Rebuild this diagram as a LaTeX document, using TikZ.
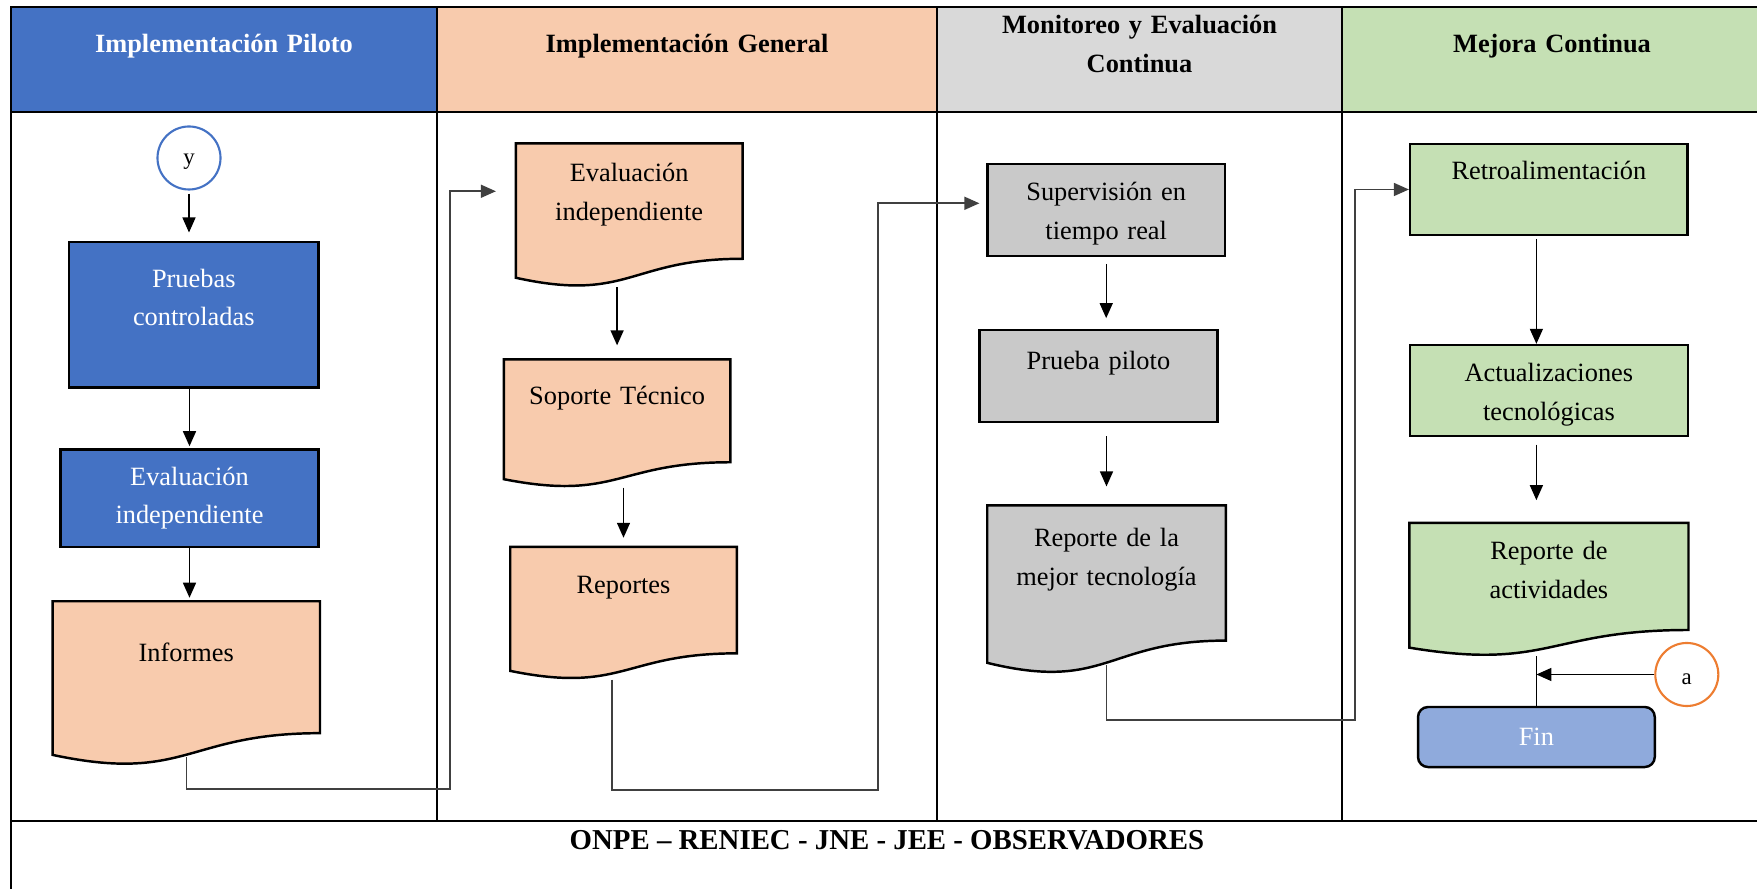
\documentclass[tikz,border=0pt]{standalone}
\usepackage{fontspec}
\setmainfont{Liberation Serif}
\usetikzlibrary{arrows.meta,calc,backgrounds}

\definecolor{pilotblue}{HTML}{4472C4}
\definecolor{genpeach}{HTML}{F8CBAD}
\definecolor{headgray}{HTML}{D9D9D9}
\definecolor{boxgray}{HTML}{C9C9C9}
\definecolor{mejgreen}{HTML}{C5E0B4}
\definecolor{finblue}{HTML}{8FAADC}
\definecolor{ringorange}{HTML}{ED7D31}
\definecolor{linkgray}{HTML}{404040}

\begin{document}
\begin{tikzpicture}[
		x=0.01cm, y=-0.01cm,
		laneline/.style={draw=black, line width=0.5pt},
		headcell/.style={draw=black, line width=0.5pt, inner sep=0pt, align=center, font=\fontsize{7.5}{11}\selectfont\bfseries},
		txt/.style={inner sep=0pt, align=center, font=\fontsize{7.5}{11}\selectfont},
		procbox/.style={txt, draw=black, line width=0.7pt},
		docbox/.style={txt},
		ringnode/.style={circle, minimum size=0.63cm, inner sep=0pt, line width=0.6pt, text depth=0cm, font=\fontsize{6.5}{8}\selectfont},
		flowarrow/.style={line width=0.4pt, -{Triangle[length=1.5mm,width=1.3mm]}},
		elbow/.style={draw=linkgray, line width=0.45pt, -{Triangle[length=1.5mm,width=1.3mm]}}
		]
		\useasboundingbox (0,0) rectangle (1757,889);
		
		% cabecera
		\node (h1) [headcell, fill=pilotblue, text=white, text width=4.26cm, text height=0.463cm, text depth=0.59cm] at (224,59.35) {Implementación Piloto};
		\node (h2) [headcell, fill=genpeach, text width=5cm, text height=0.463cm, text depth=0.59cm] at (687,59.35) {Implementación General};
		\node (h3) [headcell, fill=headgray, text width=4.05cm, text height=0.273cm, text depth=0.78cm] at (1139.5,59.35) {Monitoreo y Evaluación\\Continua};
		\node (h4) [headcell, fill=mejgreen, text width=4.2cm, text height=0.463cm, text depth=0.59cm] at (1552,59.35) {Mejora Continua};
		
		% carriles
		\draw[laneline] (11,112) -- (11,900);
		\foreach \x in {437,937,1342}
			\draw[laneline] (\x,112) -- (\x,821);
		\draw[laneline] (1762,112) -- (1762,900);
		\draw[laneline] (11,821) -- (1762,821);
		\node (org) [font=\fontsize{8.2}{10}\selectfont\bfseries] at (887,840.5) {ONPE – RENIEC - JNE - JEE - OBSERVADORES};
		
		% Implementacion Piloto
		\node (yc) [ringnode, draw=pilotblue, text height=0.14cm] at (189,158) {y};
		\node (pc) [procbox, node distance=1.565cm, below of=yc, xshift=0.048cm, fill=pilotblue, text=white, text width=2.496cm, text height=0.453cm, text depth=1.003cm] {Pruebas\\controladas};
		\node (ev) [procbox, node distance=1.835cm, below of=pc, xshift=-0.043cm, fill=pilotblue, text=white, text width=2.583cm, text height=0.357cm, text depth=0.617cm] {Evaluación\\independiente};
		\node (inf) [docbox, node distance=1.852cm, below of=ev, xshift=-0.032cm, text width=2.658cm, text height=0.6cm, text depth=1.03cm] {Informes};
		
		% Implementacion General
		\node (evg) [docbox, text width=2.251cm, text height=0.377cm, text depth=1.048cm] at (629.2,215.3) {Evaluación\\independiente};
		\node (sop) [docbox, node distance=2.081cm, below of=evg, xshift=-0.121cm, text width=2.25cm, text height=0.44cm, text depth=0.828cm] {Soporte Técnico};
		\node (rep) [docbox, node distance=1.896cm, below of=sop, xshift=0.064cm, text width=2.25cm, text height=0.462cm, text depth=0.852cm] {Reportes};
		
		% Monitoreo
		\node (sup) [procbox, fill=boxgray, text width=2.376cm, text height=0.37cm, text depth=0.55cm] at (1106.2,210) {Supervisión en\\tiempo real};
		\node (pp) [procbox, node distance=1.659cm, below of=sup, xshift=-0.078cm, fill=boxgray, text width=2.376cm, text height=0.395cm, text depth=0.522cm] {Prueba piloto};
		\node (rml) [docbox, node distance=2.136cm, below of=pp, xshift=0.081cm, text width=2.37cm, text height=0.405cm, text depth=1.265cm] {Reporte de la\\mejor tecnología};
		
		% Mejora Continua
		\node (ret) [procbox, fill=mejgreen, text width=2.774cm, text height=0.355cm, text depth=0.555cm] at (1548.9,189.5) {Retroalimentación};
		\node (act) [procbox, node distance=2.01cm, below of=ret, fill=mejgreen, text width=2.776cm, text height=0.365cm, text depth=0.545cm] {Actualizaciones\\tecnológicas};
		\node (rda) [docbox, node distance=1.989cm, below of=act, text width=2.776cm, text height=0.362cm, text depth=0.96cm] {Reporte de\\actividades};
		\node (fin) [txt, node distance=1.473cm, below of=rda, xshift=-0.125cm, draw=black, line width=0.7pt, rounded corners=0.1cm, fill=finblue, text=white, minimum width=2.366cm, minimum height=0.6cm] {Fin};
		\node (ac) [ringnode, draw=ringorange, text height=0.2cm] at (1686.8,674.5) {a};
		
		% hojas de documento
		\begin{scope}[on background layer]
			\foreach \n/\c in {inf/genpeach, evg/genpeach, sop/genpeach, rep/genpeach, rml/boxgray, rda/mejgreen}
				\draw[line width=0.7pt, fill=\c] (\n.north west) -- (\n.north east)
					-- ($(\n.south east)!0.198!(\n.north east)$)
					.. controls ($(\n.south)!0.198!(\n.north)$) and ($(\n.south)!-0.1075!(\n.north)$)
					.. ($(\n.south west)!0.066!(\n.north west)$) -- cycle;
		\end{scope}
		
		\draw[flowarrow, shorten <=0.03cm, shorten >=0.08cm] (yc) -- (yc |- pc.north);
		\draw[flowarrow, shorten >=0.02cm] (pc.south -| ev) -- (ev);
		\draw[flowarrow, shorten >=0.035cm] (ev) -- (ev |- inf.north);
		\draw[flowarrow, shorten >=0.14cm] (evg.south -| sop) -- (sop);
		\draw[flowarrow, shorten >=0.09cm] (sop.south -| rep) -- (rep);
		\draw[flowarrow, shorten <=0.067cm, shorten >=0.107cm] (sup) -- (sup |- pp.north);
		\draw[flowarrow, shorten <=0.13cm, shorten >=0.19cm] (pp.south -| rml) -- (rml);
		\draw[flowarrow, shorten <=0.027cm] (ret.south -| fin) -- (act.north -| fin);
		\draw[flowarrow, shorten <=0.073cm, shorten >=0.226cm] (act.south -| fin) -- (rda.north -| fin);
		\draw[line width=0.4pt] (rda.south -| fin) -- (fin);
		\draw[flowarrow] (ac) -- (ac -| fin);
		
		\draw[elbow] ([yshift=0.085cm]inf.south) |- (450,789) |- ([xshift=-0.2cm,yshift=0.24cm]evg.west);
		\draw[elbow] ([xshift=-0.115cm]rep.south) |- (878,790) |- ([xshift=-0.067cm,yshift=0.067cm]sup.west);
		\draw[elbow] ([yshift=0.09cm]rml.south) |- (1355,720) |- (ret.west);
	\end{tikzpicture}
\end{document}
